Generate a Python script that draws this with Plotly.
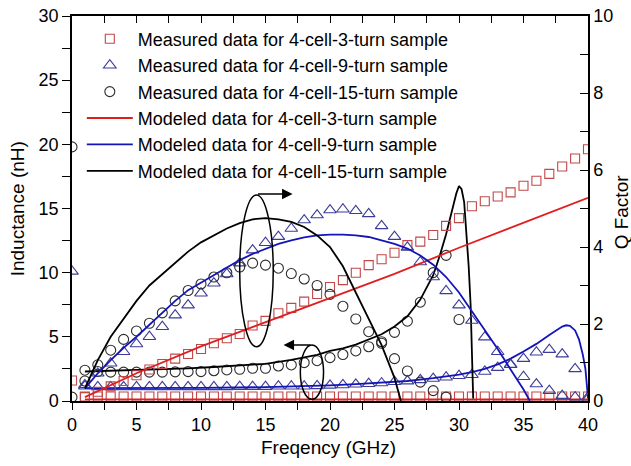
import plotly.graph_objects as go

# ---------------- data ----------------
# measured, 3-turn (red squares)
sq_L_f = list(range(0, 41))
sq_L = [1.6] + [0.35] * 40
sq_Q_f = list(range(1, 41))
sq_Q = [0.10, 0.24, 0.38, 0.52, 0.67, 0.82, 0.96, 1.10, 1.22, 1.35,
        1.50, 1.63, 1.74, 1.96, 2.08, 2.28, 2.42, 2.58, 2.78, 2.96,
        3.14, 3.33, 3.53, 3.68, 3.85, 4.05, 4.14, 4.31, 4.55, 4.75,
        5.06, 5.19, 5.31, 5.42, 5.59, 5.72, 5.90, 6.09, 6.30, 6.54]

# measured, 9-turn (blue triangles)
tr_L_f = list(range(0, 41))
tr_L = [10.1,
        1.15, 1.10, 1.10, 1.10, 1.10, 1.10, 1.10, 1.10, 1.10, 1.10,
        1.10, 1.10, 1.12, 1.12, 1.12, 1.15, 1.15, 1.15, 1.18, 1.22,
        1.25, 1.30, 1.35, 1.40, 1.50, 1.55, 1.65, 1.75, 1.85, 1.97,
        2.05, 2.30, 2.60, 2.85, 3.30, 3.80, 4.00, 3.65, 2.50, 0.30]
tr_Q_f = list(range(1, 41))
tr_Q = [0.42, 0.72, 0.98, 1.28, 1.48, 1.67, 1.93, 2.23, 2.49, 2.80,
        3.06, 3.30, 3.58, 3.92, 4.11, 4.27, 4.48, 4.70, 4.83, 4.96,
        4.98, 4.94, 4.86, 4.55, 4.27, 3.99, 3.61, 3.22, 2.86, 2.49,
        2.09, 1.66, 1.28, 0.94, 0.63, 0.44, 0.27, 0.14, 0.10, 0.06]

# measured, 15-turn (black circles)
ci_L_f = list(range(0, 31))
ci_L = [19.8,
        2.40, 2.30, 2.25, 2.25, 2.25, 2.25, 2.25, 2.27, 2.29, 2.29,
        2.36, 2.42, 2.47, 2.55, 2.55, 2.73, 2.81, 2.99, 3.14, 3.38,
        3.62, 3.90, 4.23, 4.50, 5.35, 6.22, 7.70, 10.0, 11.35, 6.35]
ci_Q_f = list(range(0, 30))
ci_Q = [0.10,
        0.52, 0.94, 1.32, 1.60, 1.82, 2.02, 2.29, 2.60, 2.87, 3.04,
        3.22, 3.33, 3.48, 3.58, 3.53, 3.45, 3.31, 3.17, 3.00, 2.77,
        2.46, 2.13, 1.80, 1.54, 1.10, 0.78, 0.49, 0.27, 0.10]

# modeled curves
red_L_f = [1, 10, 20, 30, 40]
red_L = [0.13, 0.13, 0.13, 0.13, 0.13]
red_Q_f = [1, 5, 10, 15, 20, 25, 30, 35, 40]
red_Q = [0.10, 0.72, 1.42, 2.05, 2.68, 3.30, 3.98, 4.63, 5.28]

blue_L_f = [1, 5, 10, 15, 18, 20, 22, 24, 26, 28, 30, 31, 32, 33, 34, 35, 36,
            37, 37.5, 38, 38.3, 38.6, 39, 39.3, 39.6, 39.8, 40]
blue_L = [1.0, 1.0, 1.02, 1.08, 1.15, 1.22, 1.32, 1.43, 1.56, 1.78, 2.05, 2.25,
          2.5, 2.85, 3.3, 3.85, 4.45, 5.15, 5.5, 5.8, 5.9, 5.85, 5.5, 4.8, 3.6,
          2.5, 0.2]
blue_Q_f = list(range(1, 36)) + [35.5]
blue_Q = [0.33, 0.72, 1.06, 1.38, 1.67, 1.98, 2.30, 2.60, 2.88, 3.08,
          3.27, 3.47, 3.66, 3.82, 3.96, 4.08, 4.17, 4.25, 4.30, 4.32,
          4.32, 4.30, 4.26, 4.18, 4.08, 3.96, 3.78, 3.54, 3.22, 2.82,
          2.33, 1.85, 1.35, 0.82, 0.30, 0.0]

black_L_f = [1, 3, 5, 7, 9, 11, 13, 15, 17, 19, 20, 21, 22, 23, 24, 25, 26, 27,
             28, 28.5, 29, 29.5, 29.8, 30, 30.2, 30.4, 30.6, 30.75, 30.9, 31, 31.1]
black_L = [2.3, 2.35, 2.4, 2.45, 2.55, 2.65, 2.75, 2.9, 3.2, 3.6, 3.9, 4.1, 4.4,
           4.8, 5.2, 5.8, 6.6, 7.9, 9.8, 11.3, 13.0, 15.0, 16.2, 16.75, 16.5,
           15.5, 13.0, 10.5, 7.5, 4.5, 0.2]
black_Q_f = list(range(1, 26)) + [25.5]
black_Q = [0.33, 1.06, 1.67, 2.15, 2.60, 3.00, 3.30, 3.60, 3.88, 4.12,
           4.30, 4.48, 4.62, 4.72, 4.75, 4.72, 4.65, 4.52, 4.30, 4.00,
           3.50, 2.82, 2.15, 1.45, 0.60, 0.0]

names = ["Measured data for 4-cell-3-turn sample",
         "Measured data for 4-cell-9-turn sample",
         "Measured data for 4-cell-15-turn sample",
         "Modeled data for 4-cell-3-turn sample",
         "Modeled data for 4-cell-9-turn sample",
         "Modeled data for 4-cell-15-turn sample"]

x_ticks = [0, 5, 10, 15, 20, 25, 30, 35, 40]
yL_ticks = [0, 5, 10, 15, 20, 25, 30]
yQ_ticks = [0, 2, 4, 6, 8, 10]

x_title = "Freqency (GHz)"
yL_title = "Inductance (nH)"
yQ_title = "Q Factor"

# ---------------- styles ----------------
C_SQ = "rgb(192,72,72)"
C_TR = "rgb(60,60,150)"
C_CI = "rgb(45,45,45)"
C_RL = "rgb(225,30,30)"
C_BL = "rgb(20,20,185)"
C_KL = "black"
FONT = "Arial, Liberation Sans, sans-serif"

fig = go.Figure()

def marker_pair(fL, L, fQ, Q, sym, size, color, name):
    fig.add_trace(go.Scatter(x=fL, y=L, mode="markers", name=name,
                             marker=dict(symbol=sym, size=size, color=color,
                                         line=dict(width=1.1, color=color)),
                             legendgroup=name, showlegend=True,
                             xaxis="x", yaxis="y"))
    fig.add_trace(go.Scatter(x=fQ, y=Q, mode="markers", name=name,
                             marker=dict(symbol=sym, size=size, color=color,
                                         line=dict(width=1.1, color=color)),
                             legendgroup=name, showlegend=False,
                             xaxis="x", yaxis="y2"))

def line_pair(fL, L, fQ, Q, color, name):
    fig.add_trace(go.Scatter(x=fL, y=L, mode="lines", name=name,
                             line=dict(color=color, width=1.8),
                             legendgroup=name, showlegend=True,
                             xaxis="x", yaxis="y"))
    fig.add_trace(go.Scatter(x=fQ, y=Q, mode="lines", name=name,
                             line=dict(color=color, width=1.8),
                             legendgroup=name, showlegend=False,
                             xaxis="x", yaxis="y2"))

marker_pair(sq_L_f, sq_L, sq_Q_f, sq_Q, "square-open", 9, C_SQ, names[0])
marker_pair(tr_L_f, tr_L, tr_Q_f, tr_Q, "triangle-up-open", 11, C_TR, names[1])
marker_pair(ci_L_f, ci_L, ci_Q_f, ci_Q, "circle-open", 10, C_CI, names[2])
line_pair(red_L_f, red_L, red_Q_f, red_Q, C_RL, names[3])
line_pair(blue_L_f, blue_L, blue_Q_f, blue_Q, C_BL, names[4])
line_pair(black_L_f, black_L, black_Q_f, black_Q, C_KL, names[5])

# dummy trace to carry the top mirror axis
fig.add_trace(go.Scatter(x=[None], y=[None], xaxis="x3", yaxis="y",
                         showlegend=False, hoverinfo="skip"))

axis_common = dict(showline=True, linecolor="black", linewidth=1.5,
                   showgrid=False, zeroline=False, tickcolor="black",
                   tickwidth=1.3, ticklen=8, automargin=False,
                   ticklabeloverflow="allow",
                   tickfont=dict(family=FONT, size=18, color="black"))

fig.update_layout(
    width=631, height=466,
    margin=dict(l=72, r=43, t=16, b=65, autoexpand=False),
    paper_bgcolor="white", plot_bgcolor="white",
    font=dict(family=FONT, color="black"),
    xaxis=dict(range=[0, 40], tickvals=x_ticks, ticks="outside",
               minor=dict(dtick=2.5, ticks="outside", ticklen=7,
                          tickcolor="black", tickwidth=1.3),
               **{**axis_common, "ticklen": 7}),
    xaxis3=dict(range=[0, 40], overlaying="x", side="top", dtick=2.5,
                ticks="inside", showticklabels=False, showline=True,
                linecolor="black", linewidth=1.5, showgrid=False,
                automargin=False,
                zeroline=False, tickcolor="black", tickwidth=1.3, ticklen=7),
    yaxis=dict(range=[0, 30], tickvals=yL_ticks, ticks="outside",
               minor=dict(dtick=2.5, ticks="outside", ticklen=8,
                          tickcolor="black", tickwidth=1.3),
               **axis_common),
    yaxis2=dict(range=[0, 10], tickvals=yQ_ticks, ticks="inside",
                overlaying="y", side="right",
                minor=dict(dtick=1, ticks="inside", ticklen=8,
                           tickcolor="black", tickwidth=1.3),
                **axis_common),
    legend=dict(x=0.019, y=0.988, xanchor="left", yanchor="top",
                bgcolor="rgba(0,0,0,0)", borderwidth=0, itemwidth=46,
                font=dict(family=FONT, size=18, color="black"),
                tracegroupgap=0, itemsizing="trace"),
    showlegend=True,
    shapes=[
        dict(type="circle", xref="x", yref="y", x0=13.0, x1=15.6,
             y0=4.23, y1=16.06, line=dict(color="black", width=1.5)),
        dict(type="circle", xref="x", yref="y", x0=17.7, x1=19.5,
             y0=0.13, y1=4.36, line=dict(color="black", width=1.5)),
    ],
    annotations=[
        dict(x=17.1, y=16.13, ax=14.3, ay=16.13, xref="x", yref="y",
             axref="x", ayref="y", text="", showarrow=True, arrowhead=2,
             arrowsize=1.4, arrowwidth=1.5, arrowcolor="black"),
        dict(x=16.4, y=4.36, ax=18.6, ay=4.36, xref="x", yref="y",
             axref="x", ayref="y", text="", showarrow=True, arrowhead=2,
             arrowsize=1.4, arrowwidth=1.5, arrowcolor="black"),
        dict(text=x_title, xref="paper", yref="paper", x=0.498, y=-0.12,
             xanchor="center", yanchor="middle", showarrow=False,
             font=dict(family=FONT, size=19, color="black")),
        dict(text=yL_title, xref="paper", yref="paper", x=-0.105, y=0.5,
             xanchor="center", yanchor="middle", showarrow=False,
             textangle=-90, font=dict(family=FONT, size=19, color="black")),
        dict(text=yQ_title, xref="paper", yref="paper", x=1.064, y=0.49,
             xanchor="center", yanchor="middle", showarrow=False,
             textangle=-90, font=dict(family=FONT, size=19, color="black")),
    ],
)

# remove the browser's default 8 px page margin so the figure fills the window
fig.write_html("out.html",
               config={"displayModeBar": False},
               post_script="document.body.style.margin='0';"
                           "document.body.style.overflow='hidden';")
